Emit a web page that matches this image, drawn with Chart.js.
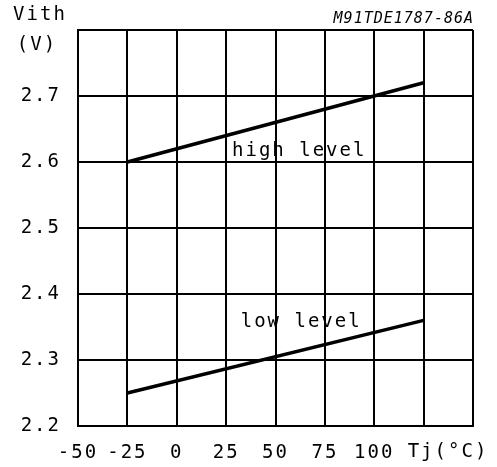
<!DOCTYPE html>
<html>
<head>
<meta charset="utf-8">
<script src="https://cdn.jsdelivr.net/npm/chart.js@4/dist/chart.umd.min.js"></script>
<style>
html,body{margin:0;padding:0;background:#fff;}
#wrap{width:497px;height:467px;}
</style>
</head>
<body>
<div id="wrap"><canvas id="c" width="497" height="467"></canvas></div>
<script>
// Data
const temps = [-25, 125];
const highLevel = [2.60, 2.72];
const lowLevel = [2.25, 2.36];
const xTickValues = [-50, -25, 0, 25, 50, 75, 100, 125, 150];
const xTickLabels = ['-50', '-25', '0', '25', '50', '75', '100', '', ''];
const yTickValues = [2.2, 2.3, 2.4, 2.5, 2.6, 2.7, 2.8];
const yTickLabels = ['2.2', '2.3', '2.4', '2.5', '2.6', '2.7', ''];
const chartTitle = 'M91TDE1787-86A';
const yTitle = ['Vith', '(V)'];
const xTitle = 'Tj(°C)';
const curveLabels = [
  {text: 'high level', x: 62, y: 2.617},
  {text: 'low level', x: 63, y: 2.358}
];

const FONT = '"DejaVu Sans Mono", "Liberation Mono", monospace';

const spacingPlugin = {
  id: 'spacing',
  beforeInit(chart) { try { chart.ctx.letterSpacing = '2px'; } catch (e) {} },
  beforeUpdate(chart) { try { chart.ctx.letterSpacing = '2px'; } catch (e) {} },
  beforeDraw(chart) { try { chart.ctx.letterSpacing = '2px'; } catch (e) {} }
};

const textPlugin = {
  id: 'texts',
  afterDraw(chart) {
    const ctx = chart.ctx;
    const xs = chart.scales.x, ys = chart.scales.y;
    ctx.save();
    ctx.fillStyle = '#000';
    ctx.textBaseline = 'middle';
    // title
    try { ctx.letterSpacing = '1px'; } catch (e) {}
    ctx.font = 'italic 15px ' + FONT;
    ctx.textAlign = 'right';
    ctx.fillText(chartTitle, xs.right + 1, 19);
    try { ctx.letterSpacing = '2px'; } catch (e) {}
    // y title
    ctx.font = '19px ' + FONT;
    ctx.textAlign = 'center';
    ctx.fillText(yTitle[0], 40, 15);
    ctx.fillText(yTitle[1], 37, 45);
    // x title
    ctx.fillText(xTitle, 448, ys.bottom + 26);
    // curve labels
    curveLabels.forEach(l => {
      ctx.fillText(l.text, xs.getPixelForValue(l.x), ys.getPixelForValue(l.y));
    });
    ctx.restore();
  }
};

new Chart(document.getElementById('c'), {
  type: 'scatter',
  data: {
    datasets: [
      {
        label: 'high level',
        data: temps.map((t, i) => ({x: t, y: highLevel[i]})),
        showLine: true, borderColor: '#000', borderWidth: 3.5,
        pointRadius: 0, fill: false
      },
      {
        label: 'low level',
        data: temps.map((t, i) => ({x: t, y: lowLevel[i]})),
        showLine: true, borderColor: '#000', borderWidth: 3.5,
        pointRadius: 0, fill: false
      }
    ]
  },
  options: {
    responsive: false,
    animation: false,
    devicePixelRatio: 1,
    layout: {padding: {top: 30, right: 24, left: 0, bottom: 0}},
    plugins: {legend: {display: false}, tooltip: {enabled: false}, title: {display: false}},
    scales: {
      x: {
        type: 'linear', min: -50, max: 150,
        afterBuildTicks(s) { s.ticks = xTickValues.map(v => ({value: v})); },
        afterFit(s) { s.height = 41; },
        grid: {color: '#000', lineWidth: 2, drawTicks: false},
        border: {color: '#000', width: 2},
        ticks: {
          color: '#000', font: {family: FONT, size: 19}, padding: 16, maxRotation: 0, autoSkip: false,
          callback(v, i) { return xTickLabels[i]; }
        }
      },
      y: {
        type: 'linear', min: 2.2, max: 2.8,
        afterBuildTicks(s) { s.ticks = yTickValues.map(v => ({value: v})); },
        afterFit(s) { s.width = 78; },
        grid: {color: '#000', lineWidth: 2, drawTicks: false},
        border: {color: '#000', width: 2},
        ticks: {
          color: '#000', font: {family: FONT, size: 19}, padding: 17, autoSkip: false,
          callback(v, i) { return yTickLabels[i]; }
        }
      }
    }
  },
  plugins: [spacingPlugin, textPlugin]
});
</script>
</body>
</html>
